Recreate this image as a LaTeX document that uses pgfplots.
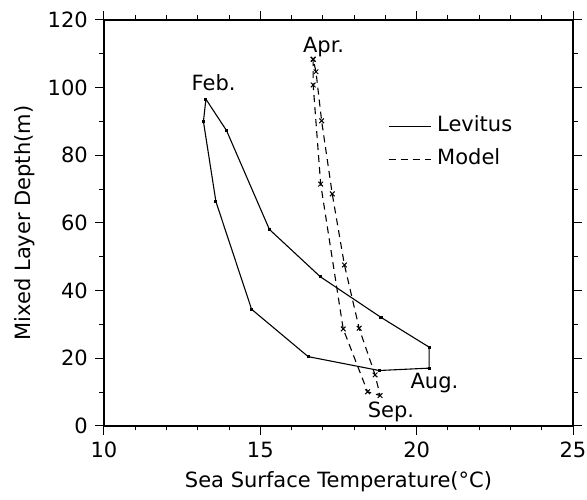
\documentclass[border=0pt]{standalone}
\usepackage{fontspec}
\setmainfont{DejaVu Sans}
\usepackage{pgfplots}
\pgfplotsset{compat=1.18}
\begin{document}
\fontsize{21}{25}\selectfont
\begin{tikzpicture}
\path[use as bounding box] (-104pt,-74pt) rectangle (483pt,426pt);
\begin{axis}[
  at={(0,0)}, anchor=south west,
  scale only axis, width=469pt, height=406pt,
  xmin=10, xmax=25, ymin=0, ymax=120,
  xtick={10,15,20,25}, ytick={0,20,...,120},
  minor x tick num=4, minor y tick num=1,
  tick align=outside, major tick length=9pt, minor tick length=4.5pt,
  axis line style={line width=1.4pt},
  every tick/.style={black, line width=1pt},
  /pgf/number format/assume math mode=true,
  ticklabel style={font=\fontsize{21}{25}\selectfont},
  xlabel={Sea Surface Temperature(°C)},
  ylabel={Mixed Layer Depth(m)},
  label style={font=\fontsize{21}{25}\selectfont},
  xlabel style={at={(axis description cs:0.5,-0.15271)}, anchor=base},
  ylabel style={at={(axis description cs:-0.15565,0.5)}, anchor=base, rotate=0},
  legend style={draw=none, fill=none, at={(axis cs:19.08,91.5)}, anchor=north west,
    inner sep=0pt, row sep=14pt,
    nodes={inner sep=0pt, text height=15pt, text depth=4pt, font=\fontsize{21}{25}\selectfont}},
  legend cell align=left,
  legend image code/.code={\draw[#1,mark=none] (0pt,0pt) -- (42pt,0pt);},
]
\addplot[black, line width=1.1pt, mark=square*, mark size=1pt] coordinates {
 (13.26,96.6) (13.18,90.0) (13.58,66.3) (14.72,34.5) (16.53,20.5) (18.80,16.4)
 (20.40,17.1) (20.40,23.3) (18.86,32.1) (16.92,44.1) (15.29,58.1) (13.92,87.3) (13.26,96.6)};
\addlegendentry{\hspace{6pt}Levitus}
\addplot[black, line width=1.1pt, dash pattern=on 7pt off 5pt, mark=x, mark size=3.3pt,
  mark options={solid, line width=1pt}] coordinates {
 (16.69,108.4) (16.69,100.8) (16.93,71.5) (17.65,28.7) (18.43,10.1) (18.83,9.0)
 (18.67,15.1) (18.16,28.9) (17.69,47.6) (17.30,68.6) (16.96,90.2) (16.78,104.7) (16.69,108.4)};
\addlegendentry{\hspace{6pt}Model}
\node[anchor=base west, inner sep=0pt] at (axis cs:12.80,99.3) {Feb.};
\node[anchor=base west, inner sep=0pt] at (axis cs:16.36,110.3) {Apr.};
\node[anchor=base west, inner sep=0pt] at (axis cs:19.80,11.2) {Aug.};
\node[anchor=base west, inner sep=0pt] at (axis cs:18.43,2.4) {Sep.};
\end{axis}
\end{tikzpicture}
\end{document}
